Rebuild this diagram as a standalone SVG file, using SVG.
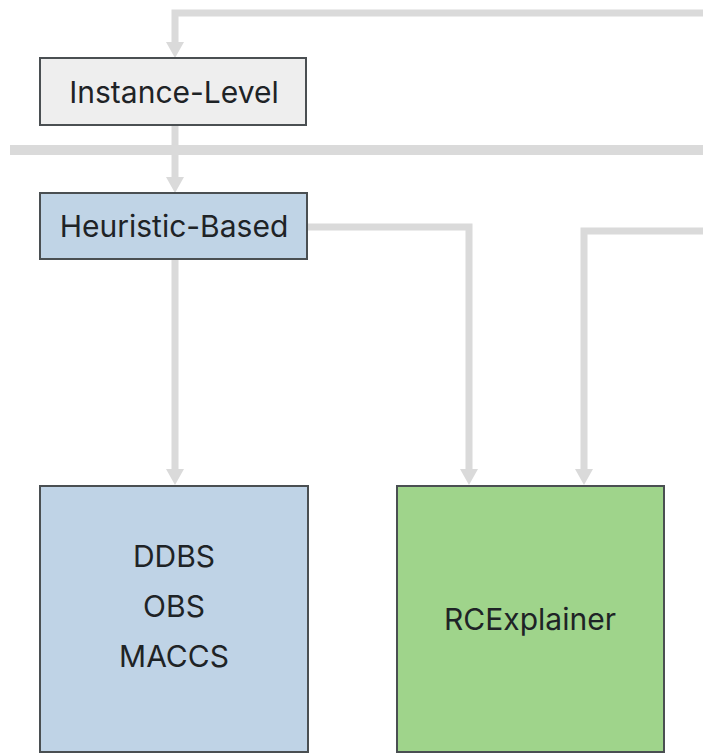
<svg xmlns="http://www.w3.org/2000/svg" width="703" height="754" viewBox="0 0 703 754">
<defs>
<style>
.conn{fill:none;stroke:#dadada;stroke-width:7;stroke-linejoin:miter}
.node{stroke:#4a4f52;stroke-width:2}
.lbl{font-family:Inter,"Noto Sans","Liberation Sans",sans-serif;font-size:30px;fill:#1e2326;text-anchor:middle}
</style>
<marker id="ah" viewBox="0 0 16 18" refX="0" refY="9" markerWidth="16" markerHeight="18" orient="auto" markerUnits="userSpaceOnUse">
<path d="M0,0 L16,9 L0,18 Z" fill="#dadada"/>
</marker>
</defs>
<rect width="703" height="754" fill="#ffffff"/>
<g id="connectors">
<path class="conn" d="M703,13 H175 V42" marker-end="url(#ah)"/>
<path class="conn" d="M10,150 H703" style="stroke-width:10"/>
<path class="conn" d="M175,125 V177" marker-end="url(#ah)"/>
<path class="conn" d="M175,259 V469" marker-end="url(#ah)"/>
<path class="conn" d="M307,227 H469 V469" marker-end="url(#ah)"/>
<path class="conn" d="M703,231 H584 V469" marker-end="url(#ah)"/>
</g>
<g id="instance-level">
<rect class="node" x="40" y="58" width="266" height="67" fill="#eeeeee"/>
<text class="lbl" x="174" y="103">Instance-Level</text>
</g>
<g id="heuristic-based">
<rect class="node" x="40" y="193" width="267" height="66" fill="#c0d4e6"/>
<text class="lbl" x="174" y="237">Heuristic-Based</text>
</g>
<g id="heuristic-methods">
<rect class="node" x="40" y="486" width="268" height="266" fill="#bfd3e6"/>
<text class="lbl" x="174" y="567">DDBS</text>
<text class="lbl" x="174" y="617">OBS</text>
<text class="lbl" x="174" y="667">MACCS</text>
</g>
<g id="rcexplainer">
<rect class="node" x="397" y="486" width="267" height="266" fill="#9fd48b"/>
<text class="lbl" x="530" y="630">RCExplainer</text>
</g>
</svg>
